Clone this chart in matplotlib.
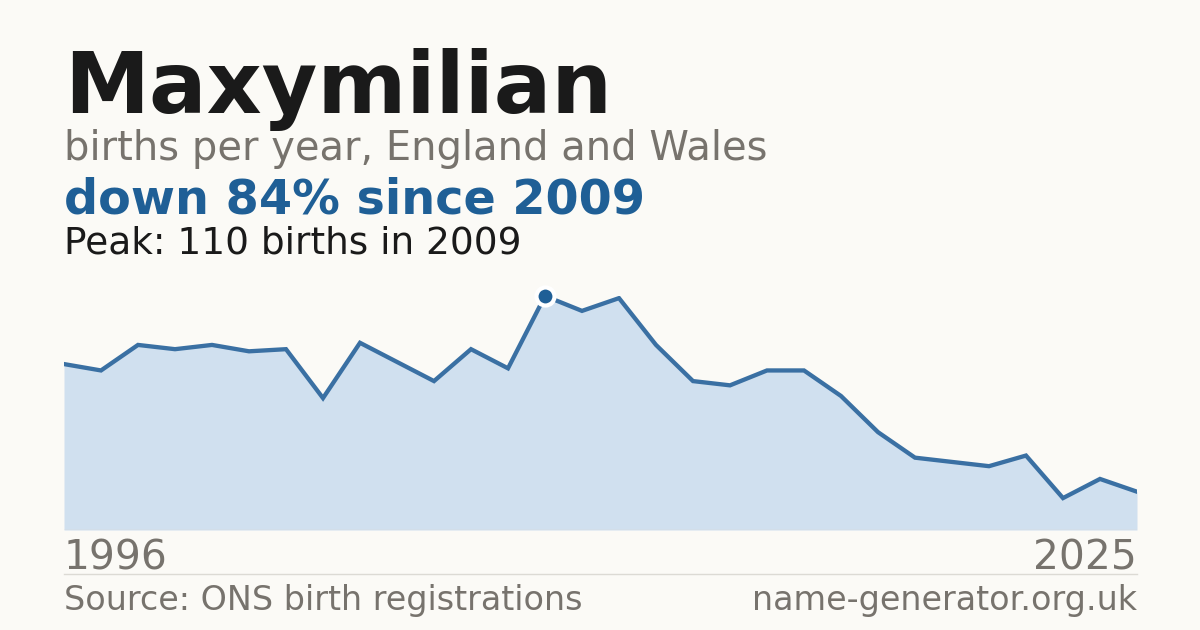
import matplotlib
matplotlib.use("Agg")
import matplotlib.pyplot as plt
from matplotlib.lines import Line2D

# births per year for the name
years = list(range(1996, 2026))
births = [78, 75, 87, 85, 87, 84, 85, 62, 88, 79,
          70, 85, 76, 110, 103, 109, 87, 70, 68, 75,
          75, 63, 46, 34, 32, 30, 35, 15, 24, 18]

name = "Maxymilian"
subtitle = "births per year, England and Wales"
source = "Source: ONS birth registrations"
site = "name-generator.org.uk"

bg = "#fbfaf6"
blue = "#1f5f96"
fill = "#d0e0ef"
grey = "#77736d"
dark = "#1a1a1a"

W, H = 1200, 630
fig = plt.figure(figsize=(12, 6.3), dpi=100, facecolor=bg)


def fx(px):
    return px / W


def fy(py):
    return 1 - py / H


# peak and change since peak
peak = max(births)
peak_year = years[births.index(peak)]
drop = round((1 - births[-1] / peak) * 100)

# chart area
left, right, top, bottom = 64, 1137, 296, 530
ax = fig.add_axes([fx(left), fy(bottom), fx(right - left), (bottom - top) / H])
ax.set_facecolor(bg)
ax.fill_between(years, births, 0, color=fill, lw=0)
ax.plot(years, births, color="#3a70a3", lw=3.1, solid_joinstyle="miter")
ax.axhline(0, color="#dcdad4", lw=1)
ax.plot([peak_year], [peak], "o", ms=13, color=blue, mec="white", mew=3,
        clip_on=False, zorder=5)
ax.set_xlim(years[0], years[-1])
ax.set_ylim(0, peak)
ax.axis("off")

# texts
fig.text(fx(64), fy(113), name, fontsize=61.5, fontweight="bold", color=dark, va="baseline")
fig.text(fx(64), fy(160), subtitle, fontsize=28.8, color=grey, va="baseline")
fig.text(fx(64), fy(214), f"down {drop}% since {peak_year}", fontsize=34.4,
         fontweight="bold", color=blue, va="baseline")
fig.text(fx(64), fy(253), f"Peak: {peak} births in {peak_year}", fontsize=27,
         color=dark, va="baseline")

fig.text(fx(64), fy(569), str(years[0]), fontsize=29.3, color=grey, va="baseline")
fig.text(fx(1137), fy(569), str(years[-1]), fontsize=29.3, color=grey, va="baseline", ha="right")

fig.add_artist(Line2D([fx(64), fx(1137)], [fy(574), fy(574)], color="#dcdad4", lw=1))

fig.text(fx(64), fy(610), source, fontsize=24, color=grey, va="baseline")
fig.text(fx(1137), fy(610), site, fontsize=24, color=grey, va="baseline", ha="right")

fig.savefig("out.png", dpi=100, facecolor=bg)
